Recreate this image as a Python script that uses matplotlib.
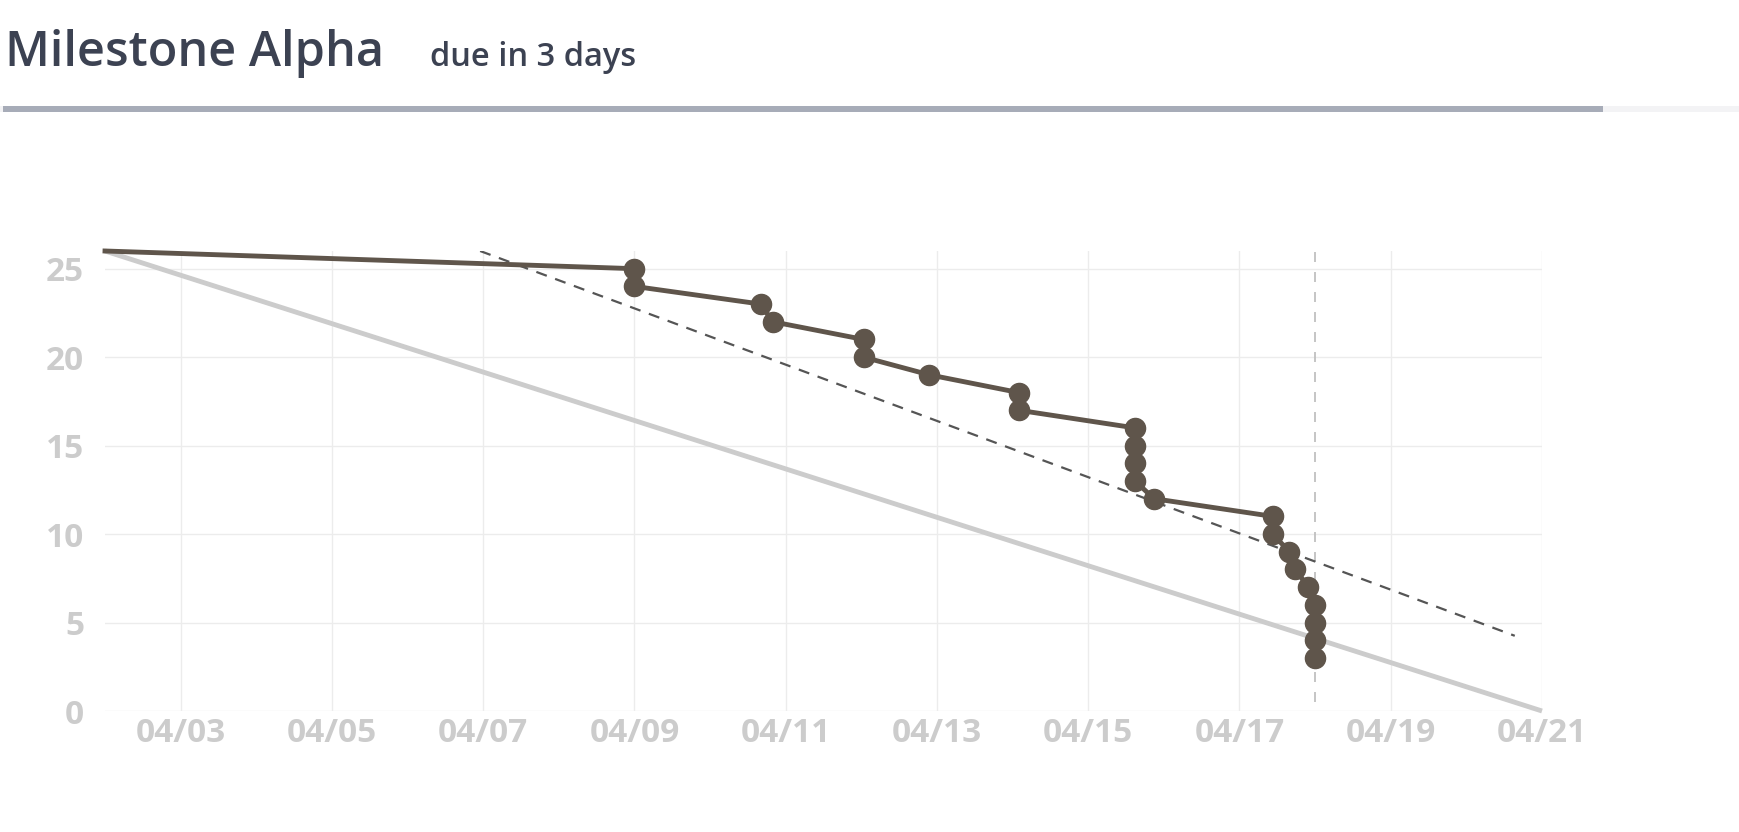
import numpy as np
import pandas as pd
import matplotlib
matplotlib.use('Agg')
import matplotlib.pyplot as plt
import matplotlib.dates as mdates

plt.rcParams['font.family'] = ['Open Sans', 'DejaVu Sans']

# burndown data
start = pd.Timestamp('2024-04-02')
due = pd.Timestamp('2024-04-21')
today = pd.Timestamp('2024-04-18')
total = 26

# remaining issues after each close (days after 04/02, remaining)
close_days = [7.0, 7.0, 8.67, 8.83, 10.03, 10.03, 10.9, 12.08, 12.08,
              13.62, 13.62, 13.62, 13.62, 13.87, 15.44, 15.44, 15.66,
              15.74, 15.91, 16.0, 16.0, 16.0, 16.0]
remaining = [25, 24, 23, 22, 21, 20, 19, 18, 17, 16, 15, 14, 13, 12,
             11, 10, 9, 8, 7, 6, 5, 4, 3]

# projected trend (dashed)
trend_days = [4.96, 18.64]
trend_vals = [26, 4.25]

close_dates = [start + pd.Timedelta(days=d) for d in close_days]
trend_dates = [start + pd.Timedelta(days=d) for d in trend_days]

fig = plt.figure(figsize=(17.4, 8.32), dpi=100)

# header
fig.text(5 / 1740, 1 - 66 / 832, 'Milestone Alpha', fontsize=35,
         fontweight='semibold', color='#3c4252')
fig.text(430 / 1740, 1 - 66 / 832, 'due in 3 days', fontsize=23.5,
         fontweight='semibold', color='#3c4252')
bar = fig.add_axes([0, 1 - 112 / 832, 1, 6 / 832])
bar.axis('off')
bar.set_xlim(0, 1)
bar.set_ylim(0, 1)
bar.barh(0.5, 1, height=1, left=0, color='#f3f3f5')
bar.barh(0.5, 1600 / 1740, height=1, left=3 / 1740, color='#a7acb8')

ax = fig.add_axes([105 / 1740, 1 - 711 / 832, (1542 - 105) / 1740,
                   (711 - 251) / 832])

ax.plot([start, due], [total, 0], color='#cccccc', lw=3.5, clip_on=False,
        solid_capstyle='butt', zorder=2)
ax.plot(trend_dates, trend_vals, color='#555555', lw=1.6,
        dashes=(5, 4), zorder=3)
ax.vlines(today, 0.5, 26, colors='#bbbbbb', lw=1.2,
          linestyles=(0, (6, 6)), zorder=2)
ax.plot([start] + close_dates, [total] + remaining, color='#5f554b', lw=3.5,
        clip_on=False, zorder=4)
ax.plot(close_dates, remaining, 'o', color='#5f554b', ms=14.5, zorder=5)

ax.set_xlim(start, due)
ax.set_ylim(0, 26)
ax.set_yticks([0, 5, 10, 15, 20, 25])
ax.xaxis.set_major_locator(mdates.DayLocator(bymonthday=range(3, 32, 2)))
ax.xaxis.set_major_formatter(mdates.DateFormatter('%m/%d'))

for s in ax.spines.values():
    s.set_visible(False)
ax.grid(True, color='#ececec', lw=1, zorder=0)
ax.set_axisbelow(True)
ax.tick_params(length=0, colors='#cccccc', labelsize=24)
ax.tick_params(axis='y', pad=15)
ax.tick_params(axis='x', pad=4)
for lbl in ax.get_xticklabels() + ax.get_yticklabels():
    lbl.set_fontweight('bold')
    lbl.set_color('#cccccc')

fig.savefig('out.png', dpi=100)
